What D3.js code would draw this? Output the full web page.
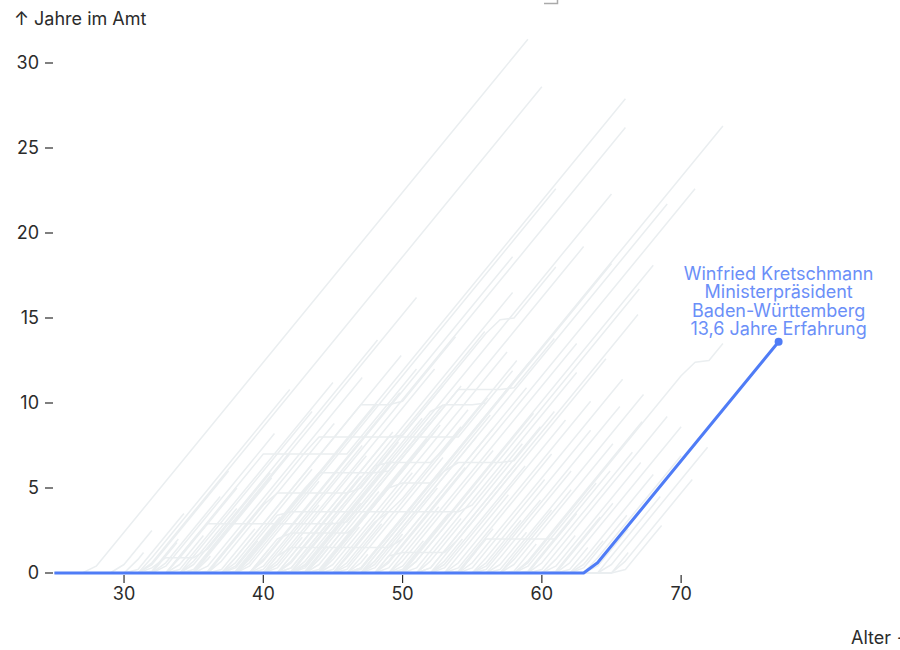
<!DOCTYPE html>
<html>
<head>
<meta charset="utf-8">
<script src="https://cdn.jsdelivr.net/npm/d3@7"></script>
<style>
  html, body { margin: 0; padding: 0; background: #fff; }
  svg { display: block; font-family: Inter, "Noto Sans", sans-serif; }
</style>
</head>
<body>
<script>
// ---- Daten ----
// Einfache Amtszeiten: Alter beim Amtsantritt, Jahre im Amt
const antrittAlter = [
  27.6, 31.4, 38.1, 39.8, 46.7, 42.7, 48.4, 47.3, 38.4, 43.8,
  46.8, 49.9, 50.3, 51.7, 34.8, 39.3, 41.4, 29.5, 32.4, 31.1,
  33.8, 34.5,
  30.2, 30.8, 31.5, 32.0, 32.6, 33.1, 33.5, 34.0, 34.3, 34.9,
  35.2, 35.6, 36.0, 36.3, 36.8, 37.1, 37.4, 37.9, 38.2, 38.6,
  39.0, 39.2, 39.6, 40.0, 40.3, 40.7, 41.0, 41.3, 41.7, 42.0,
  42.3, 42.6, 43.0, 43.2, 43.5, 43.9, 44.2, 44.5, 44.8, 45.1,
  45.4, 45.8, 46.1, 46.4, 46.7, 47.0, 47.3, 47.7, 48.0, 48.3,
  48.7, 49.0, 49.3, 49.6, 50.0, 50.3, 50.7, 51.0, 51.3, 51.7,
  52.0, 52.3, 52.7, 53.0, 53.4, 53.7, 54.0, 54.4, 54.7, 55.1,
  55.4, 55.8, 56.1, 56.5, 56.8, 57.2, 57.5, 57.9, 58.3, 58.6,
  59.0, 59.4, 59.8, 60.2, 60.6, 61.0, 61.4, 61.8, 62.2, 62.7,
  63.1, 63.6, 64.0, 64.5, 65.0, 65.3, 65.8,
  31.9, 35.0, 37.7, 40.5, 42.9, 44.0, 45.6, 47.5, 49.8, 52.5,
  53.9, 55.6, 57.0, 58.9, 60.9, 62.5
];
const amtsJahre = [
  31.4, 28.6, 27.9, 26.2, 26.3, 22.3, 22.6, 21.7, 22.6, 19.2,
  18.2, 18.1, 16.7, 15.2, 16.2, 18.6, 16.5, 2.5, 4.5, 10.8,
  11.2, 13.7,
  1.2, 3.5, 6.0, 1.8, 8.2, 5.0, 2.2, 9.5, 3.8, 7.0,
  1.0, 11.5, 4.2, 8.8, 2.6, 12.8, 6.1, 3.3, 9.9, 5.4,
  1.4, 10.6, 7.5, 4.0, 12.0, 2.1, 8.3, 5.7, 14.2, 3.0,
  9.1, 6.6, 1.6, 11.0, 4.8, 7.9, 2.7, 13.0, 5.9, 9.6,
  3.6, 10.3, 6.8, 1.1, 12.4, 4.4, 8.0, 2.3, 10.9, 6.2,
  3.9, 13.5, 7.2, 1.9, 9.4, 5.1, 11.8, 3.2, 8.6, 6.4,
  12.6, 2.0, 9.0, 4.6, 10.1, 7.0, 1.3, 11.4, 5.5, 8.4,
  3.1, 9.8, 6.0, 2.4, 10.5, 4.9, 7.6, 1.7, 8.9, 5.3,
  3.0, 7.1, 9.2, 2.2, 6.5, 4.1, 8.6, 1.5, 5.8, 3.4,
  6.9, 2.6, 4.5, 7.4, 1.2, 5.5, 2.8,
  2.0, 5.6, 1.9, 6.9, 4.1, 8.7, 2.9, 5.0, 3.5, 6.3,
  2.6, 4.3, 3.7, 6.0, 3.3, 1.9
];

// Amtszeiten mit Unterbrechung: Antritt, erste Amtszeit, Pause, zweite Amtszeit
const pauseAntritt = [43.2, 37.1, 35.9, 41.0, 33.0, 41.7, 47.0, 38.0, 36.0, 37.6, 45.0, 33.0, 54.0, 40.0, 31.7, 41.9, 58.4, 44.0, 39.0, 48.0, 42.5];
const pauseErste   = [10.8,  9.9,  8.0,  8.0,  7.0,  6.5,  6.5,  5.9,  4.7,  3.6,  3.6,  2.9,  2.0,  1.5,  0.9, 14.9, 12.4,  5.3, 2.35,  1.2,  9.9];
const pauseDauer   = [ 3.9,  2.8,  6.0,  5.0,  6.0,  4.0,  4.4,  5.0,  6.0,  8.0,  6.0, 10.0,  5.0,  8.0,  2.9,  1.1,  1.1,  3.0,  5.0,  4.0,  3.5];
const pauseZweite  = [ 3.0,  4.0,  3.0,  2.0,  5.0,  6.0,  3.0,  4.0,  3.0,  5.0,  4.0,  6.0,  1.5,  7.0,  5.0,  3.1,  1.1,  4.0,  6.0,  5.0,  2.0];

// Hervorgehoben
const fokusName = "Winfried Kretschmann";
const fokusAmt = "Ministerpräsident";
const fokusLand = "Baden-Württemberg";
const fokusAntritt = 63.4;
const fokusJahre = 13.6;

const xTicks = [30, 40, 50, 60, 70];
const yTicks = [0, 5, 10, 15, 20, 25, 30];

// ---- Aufbau ----
const W = 900, H = 650;
const START = 25;

function verlauf(a, p1, d, p2) {
  const end = a + p1 + d + p2;
  const f = t => {
    if (t <= a) return 0;
    if (t <= a + p1) return t - a;
    if (t <= a + p1 + d) return p1;
    return Math.min(p1 + (t - a - p1 - d), p1 + p2);
  };
  const pts = [];
  for (let t = START; t < end - 1e-9; t++) pts.push([t, f(t)]);
  pts.push([end, f(end)]);
  return pts;
}

const linien = [];
antrittAlter.forEach((a, i) => linien.push(verlauf(a, amtsJahre[i], 0, 0)));
pauseAntritt.forEach((a, i) => linien.push(verlauf(a, pauseErste[i], pauseDauer[i], pauseZweite[i])));
const fokus = verlauf(fokusAntritt, fokusJahre, 0, 0);

const x = d3.scaleLinear().domain([25, 80]).range([54.4, 820.4]);
const y = d3.scaleLinear().domain([0, 30]).range([573, 63]);

const svg = d3.select("body").append("svg").attr("width", W).attr("height", H);

const line = d3.line().x(d => x(d[0])).y(d => y(d[1]));

svg.append("g")
  .attr("fill", "none")
  .attr("stroke", "#eaeef0")
  .attr("stroke-width", 1.5)
  .attr("stroke-linejoin", "round")
  .selectAll("path").data(linien).join("path")
  .attr("d", line);

const FS = 18;
const ink = "#2b2b2b";

// y-Achse
const yAxis = svg.append("g").attr("font-size", FS).attr("fill", ink);
yAxis.selectAll("line").data(yTicks).join("line")
  .attr("x1", 45).attr("x2", 53)
  .attr("y1", d => y(d)).attr("y2", d => y(d))
  .attr("stroke", ink).attr("stroke-width", 1.2);
yAxis.selectAll("text").data(yTicks).join("text")
  .attr("x", 39).attr("y", d => y(d)).attr("dy", "0.35em")
  .attr("text-anchor", "end").text(d => d);
svg.append("text").attr("x", 14).attr("y", 25).attr("font-size", FS).attr("fill", ink)
  .text("↑ Jahre im Amt");

// x-Achse
const xAxis = svg.append("g").attr("font-size", FS).attr("fill", ink);
xAxis.selectAll("line").data(xTicks).join("line")
  .attr("x1", d => x(d)).attr("x2", d => x(d))
  .attr("y1", 575).attr("y2", 583)
  .attr("stroke", ink).attr("stroke-width", 1.2);
xAxis.selectAll("text").data(xTicks).join("text")
  .attr("x", d => x(d)).attr("y", 600)
  .attr("text-anchor", "middle").text(d => d);
svg.append("text").attr("x", 851).attr("y", 644).attr("font-size", FS).attr("fill", ink)
  .text("Alter →");

// Fokuslinie
const blau = "#4f7cf6";
svg.append("path").datum(fokus)
  .attr("fill", "none").attr("stroke", blau).attr("stroke-width", 3)
  .attr("stroke-linejoin", "round").attr("d", line);
const endPt = fokus[fokus.length - 1];
svg.append("circle").attr("cx", x(endPt[0])).attr("cy", y(endPt[1])).attr("r", 4).attr("fill", blau);

const label = [fokusName, fokusAmt, fokusLand, String(fokusJahre).replace(".", ",") + " Jahre Erfahrung"];
const lt = svg.append("text").attr("font-size", FS).attr("fill", "#6b8ff8").attr("text-anchor", "middle");
label.forEach((s, i) => {
  lt.append("tspan").attr("x", x(endPt[0])).attr("y", y(endPt[1]) - 7 - (label.length - 1 - i) * 18.3).text(s);
});

// kleine Markierung oben
svg.append("path").attr("d", "M544,3.5H557.5V0").attr("fill", "none").attr("stroke", "#aaa").attr("stroke-width", 1.5);
</script>
</body>
</html>
